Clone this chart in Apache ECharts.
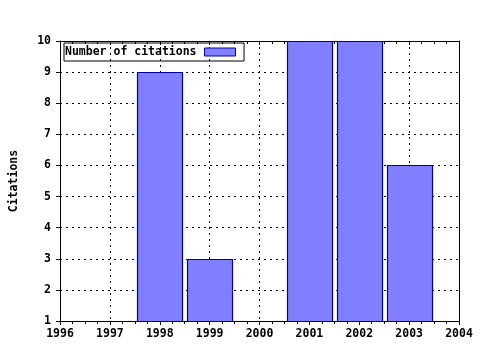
<!DOCTYPE html>
<html><head><meta charset="utf-8">
<script src="https://cdn.jsdelivr.net/npm/echarts@6/dist/echarts.min.js"></script>
<style>html,body{margin:0;padding:0;background:#fff}#c{width:480px;height:350px}</style>
</head><body><div id="c"></div>
<script>
var years = [1998, 1999, 2001, 2002, 2003];
var citations = [9, 3, 10, 10, 6];
var seriesName = 'Number of citations';
var yLabel = 'Citations';

var FONT = 'DejaVu Sans Mono';
var lbl = {fontFamily: FONT, fontWeight: 'bold', fontSize: 11.5, color: '#000'};
var chart = echarts.init(document.getElementById('c'), null, {renderer: 'canvas'});
var data = years.map(function (y, i) { return [y, citations[i]]; });
chart.setOption({
  backgroundColor: '#fff',
  animation: false,
  grid: {left: 57, right: 21, top: 41, bottom: 29, containLabel: false},
  legend: {
    left: 64, top: 43, orient: 'horizontal', align: 'right',
    borderColor: '#000', borderWidth: 1, padding: [3, 8, 3, 1],
    itemWidth: 31, itemHeight: 8, itemGap: 0,
    textStyle: Object.assign({padding: [0, 3, 0, 0]}, lbl),
    data: [{name: seriesName, icon: 'rect', itemStyle: {color: '#8080ff', borderColor: '#0000a0', borderWidth: 1}}]
  },
  xAxis: [{
    type: 'value', min: 1996, max: 2004, interval: 1, position: 'bottom',
    axisLine: {show: true, lineStyle: {color: '#000', width: 1}},
    axisTick: {show: true, inside: false, length: 4, lineStyle: {color: '#000'}},
    minorTick: {show: true, splitNumber: 4, length: 3, lineStyle: {color: '#000'}},
    axisLabel: Object.assign({margin: 7, formatter: function (v) { return String(v); }}, lbl),
    splitLine: {show: true, lineStyle: {color: '#000', type: [2, 4], width: 1}}
  }, {
    type: 'value', min: 1996, max: 2004, interval: 1, position: 'top',
    axisLine: {show: true, lineStyle: {color: '#000', width: 1}},
    axisTick: {show: true, inside: true, length: 4, lineStyle: {color: '#000'}},
    minorTick: {show: true, splitNumber: 4, length: 3, lineStyle: {color: '#000'}},
    axisLabel: {show: false}, splitLine: {show: false}
  }],
  yAxis: [{
    type: 'value', min: 1, max: 10, interval: 1, position: 'left',
    name: yLabel, nameLocation: 'middle', nameGap: 40, nameRotate: 90,
    nameTextStyle: lbl,
    axisLine: {show: true, lineStyle: {color: '#000', width: 1}},
    axisTick: {show: true, inside: false, length: 4, lineStyle: {color: '#000'}},
    axisLabel: Object.assign({margin: 9}, lbl),
    splitLine: {show: true, lineStyle: {color: '#000', type: [2, 4], width: 1}}
  }, {
    type: 'value', min: 1, max: 10, interval: 1, position: 'right',
    axisLine: {show: true, lineStyle: {color: '#000', width: 1}},
    axisTick: {show: false}, axisLabel: {show: false}, splitLine: {show: false}
  }],
  series: [{
    name: seriesName, type: 'custom', xAxisIndex: 0, yAxisIndex: 0,
    itemStyle: {color: '#8080ff', borderColor: '#0000a0', borderWidth: 1},
    data: data,
    renderItem: function (params, api) {
      var x = api.value(0), y = api.value(1);
      var p0 = api.coord([x - 0.45, y]);
      var p1 = api.coord([x + 0.45, 1]);
      return {
        type: 'rect',
        shape: {x: Math.round(p0[0]) + 0.5, y: Math.round(p0[1]) + 0.5, width: Math.round(p1[0] - p0[0]), height: Math.round(p1[1] - p0[1])},
        style: {fill: '#8080ff', stroke: '#0000a0', lineWidth: 1.2}
      };
    }
  }]
});
</script></body></html>
